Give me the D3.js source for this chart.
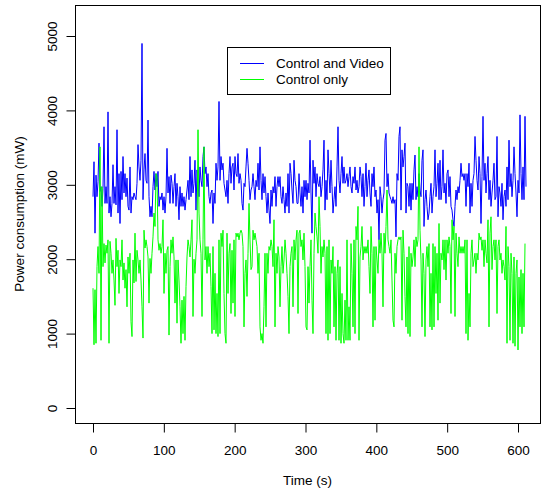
<!DOCTYPE html>
<html>
<head>
<meta charset="utf-8">
<script src="https://d3js.org/d3.v7.min.js"></script>
<style>
  body { margin: 0; background: #fff; }
  text { font-family: "Liberation Sans", Arial, sans-serif; }
</style>
</head>
<body>
<script>
// one reading every ~1.41 s
var step = 600 / 425;

var controlVideo = [
  2840,3310,2350,3130,2840,3040,3560,2910,2975,2710,2950,3780,2750,2975,2750,3980,2620,2840,2570,2750,
  3270,2750,2975,2730,3740,2620,3150,2480,3180,2800,3380,2890,3150,2840,3090,2710,2660,3240,2620,2840,
  2800,2890,2840,2800,3020,3540,3240,3060,3330,4900,2800,3200,3420,3060,3020,3870,2840,2570,2710,2570,
  2975,3180,2930,3150,2975,3180,2710,2840,2800,2890,2660,2840,2620,2840,3490,2890,3110,2750,3130,3020,
  2750,2975,3150,2710,3020,2840,2530,2975,2710,2890,2710,2840,2660,2800,2930,3060,2800,3380,2840,3200,
  2890,3020,
  3330,2660,3200,3020,2840,3240,3060,2975,3380,3510,3150,3240,2975,3150,2840,2750,2890,2930,2480,2890,
  2750,3290,3060,3240,4120,3060,3380,3200,3290,3020,2930,2840,3060,2750,3150,3380,3020,3240,3290,2930,
  3380,3150,3110,3420,3020,3150,3060,2750,2660,3020,2975,3240,3490,3290,3060,2800,2930,2975,3150,2975,
  2800,3060,2975,3290,2930,3510,3060,2800,3150,2890,3110,2840,2620,2890,2660,2480,2930,2710,2975,2890,
  3110,2710,2975,3110,2975,3110,2840,2750,2975,2800,2620,2890,2710,3150,2620,3290,3150,2930,2750,3330,
  3060,2975,2750,
  2750,3150,2890,2710,2975,2620,3060,2840,3060,2800,3020,2890,3600,2890,2350,3330,3020,3240,2840,3150,
  3020,2975,3110,2840,2975,3200,3600,2660,3060,2800,3470,3150,2890,3330,2975,2620,2800,2975,2710,3240,
  3780,3060,2890,3150,3380,3020,3240,3020,3060,3150,2975,3110,3240,2975,2890,3110,3020,3240,2930,3060,
  2890,2975,3240,3110,2840,3150,2710,2975,3290,2840,3060,3200,2890,2710,3150,2975,3240,2840,2930,2620,
  2800,2260,2975,2840,2620,2800,2890,3600,3690,2975,3150,2890,2840,2800,2750,2840,2750,2800,2300,3150,
  3060,3650,
  3780,2660,3470,3240,3380,3560,2620,3020,2975,2710,3020,2660,3020,2800,3200,3400,2800,2975,2840,3150,
  2930,2840,3330,3470,2440,2800,2930,2710,2530,2620,2840,3020,2620,2840,2975,3470,2840,3020,3290,2800,
  3330,2800,2975,3470,2890,3020,2750,3150,3200,2840,3110,2710,2660,2530,2440,2710,2930,2800,2975,2890,
  3060,3290,3110,3150,3060,3150,2710,3150,2975,3290,2620,3020,2710,3060,3150,3650,3330,3060,2930,3380,
  3150,2480,3110,3920,3060,3290,2890,3150,3380,2800,3060,2710,2890,3060,3290,2800,2840,3650,2570,2975,
  2890,2710,3020,2530,2840,2930,2710,3240,2800,3600,2975,3150,2840,3060,3510,3150,2890,2570,3060,2890,
  3940,3150,2800,3240,2800,3920,2975
];

var controlOnly = [
  1610,850,1590,870,1900,2170,1810,3510,910,2975,1900,2210,1950,2190,2080,2260,870,2240,2080,1810,
  1990,1720,1380,2280,1900,2120,1540,1990,1900,2260,1720,1950,1610,1860,1360,2030,1810,2080,1160,960,
  1990,1680,2350,1700,2120,1990,1810,1990,1720,1360,940,2390,2150,2260,2170,2030,1410,2010,1810,2080,
  2300,2620,2440,3150,3110,2260,2120,2210,2080,2170,2530,1540,2080,1810,2120,2170,980,1900,2260,2080,
  2300,2030,1410,1990,1140,1990,1720,1360,870,1450,1000,1500,910,1630,2030,2260,2170,2030,2260,2530,
  1230,2000,
  1810,2080,2260,3740,2620,2260,2080,1230,2260,3510,1990,2170,1810,2170,1900,2080,1630,1000,2170,1050,
  1810,1000,1540,960,2260,1000,2350,2170,2390,1540,1000,870,2350,1540,2080,2210,1270,2120,1410,2260,
  1230,2350,2300,2350,2260,2350,2390,2350,2170,1090,1810,1990,1500,2080,2750,2260,1860,1900,2390,2260,
  2350,2260,2170,1810,2080,1090,910,1000,870,1360,2080,1090,2080,1810,2170,2120,2260,2170,1900,2530,
  1090,2080,1810,2170,2030,1360,1900,2170,1810,1990,2260,2080,1810,1500,1000,1900,2080,2170,1360,2260,
  1990,2260,2390,
  1270,2350,2390,2170,2260,1990,2350,1900,1090,1050,1900,1410,1900,2260,1450,1000,2080,2620,2440,2300,
  2080,2840,2440,1810,2170,2030,2260,2080,1000,2170,910,2260,1000,1990,1810,2170,1090,1900,910,1810,
  1990,910,1900,870,1540,1000,870,1450,910,2260,910,1360,910,2210,1810,1090,2260,1000,2440,2260,
  2710,910,2030,2170,2440,1990,2170,2080,2170,2080,2260,1900,1540,2440,2080,1090,2170,1180,2170,1990,
  1810,2260,2080,2350,2080,1360,2350,2080,2440,2930,2260,2170,2080,2260,1720,1180,1090,2080,1810,2170,
  2260,2300,
  2260,2300,1180,2390,2080,1500,1090,2030,1000,2170,960,2080,1900,2030,2260,1900,2300,2170,2260,3510,
  2390,1990,1090,2080,1810,960,1990,2170,1900,2210,1090,1810,1050,2210,1090,2170,1540,2080,1180,2480,
  1410,2080,1990,2260,1860,2260,1720,2260,2080,2300,2170,1270,2530,2260,2440,1230,2350,2080,1900,2300,
  2080,2170,2080,2170,2080,2260,1000,2260,910,1540,1090,2080,2260,1900,1990,2080,1810,2080,1990,2350,
  2260,2300,2120,2260,1900,2260,2080,1950,2530,1090,2350,2570,1860,2170,2260,1990,2260,1270,2170,2260,
  1990,2080,1810,1990,1900,1720,2440,870,2170,1900,910,2080,1810,870,2030,830,1810,1990,780,1760,
  1090,1860,1000,1810,1090,2210
];

var xTicks = [0, 100, 200, 300, 400, 500, 600];
var yTicks = [0, 1000, 2000, 3000, 4000, 5000];
var seriesNames = ["Control and Video", "Control only"];
var seriesColors = ["#0000ff", "#00ff00"];

var width = 545, height = 491;
var box = {left: 75, right: 540, top: 5, bottom: 423};
var fs = 13.5;

var svg = d3.select("body").append("svg")
    .attr("width", width)
    .attr("height", height);

svg.append("rect").attr("width", width).attr("height", height).attr("fill", "#fff");

var x = d3.scaleLinear().domain([0, 600]).range([93, 518]);
var y = d3.scaleLinear().domain([0, 5000]).range([408, 36]);

var line = d3.line()
    .x(function(d, i) { return x(i * step); })
    .y(function(d) { return y(d); });

svg.append("path")
    .datum(controlVideo)
    .attr("fill", "none")
    .attr("stroke", seriesColors[0])
    .attr("stroke-width", 1)
    .attr("d", line);

svg.append("path")
    .datum(controlOnly)
    .attr("fill", "none")
    .attr("stroke", seriesColors[1])
    .attr("stroke-width", 1)
    .attr("d", line);

// frame
svg.append("rect")
    .attr("x", box.left + 0.5).attr("y", box.top + 0.5)
    .attr("width", box.right - box.left).attr("height", box.bottom - box.top)
    .attr("fill", "none").attr("stroke", "#000").attr("stroke-width", 1);

var xAxis = svg.append("g")
    .attr("transform", "translate(0," + (box.bottom + 0.5) + ")")
    .call(d3.axisBottom(x).tickValues(xTicks).tickSize(9).tickSizeOuter(0));
xAxis.select(".domain").remove();
xAxis.selectAll("text")
    .attr("dy", null).attr("y", 31)
    .attr("font-size", fs).attr("fill", "#000")
    .style("font-family", "Liberation Sans, Arial, sans-serif");

var yAxis = svg.append("g")
    .attr("transform", "translate(" + (box.left + 0.5) + ",0)")
    .call(d3.axisLeft(y).tickValues(yTicks).tickFormat(d3.format("d")).tickSize(9).tickSizeOuter(0));
yAxis.select(".domain").remove();
yAxis.selectAll("text")
    .attr("dy", null).attr("x", 0).attr("y", -18.5)
    .attr("transform", "rotate(-90)")
    .attr("text-anchor", "middle")
    .attr("font-size", fs).attr("fill", "#000")
    .style("font-family", "Liberation Sans, Arial, sans-serif");

svg.append("text")
    .attr("x", (box.left + box.right) / 2)
    .attr("y", 485)
    .attr("text-anchor", "middle")
    .attr("font-size", fs)
    .text("Time (s)");

svg.append("text")
    .attr("transform", "translate(24," + ((box.top + box.bottom) / 2) + ") rotate(-90)")
    .attr("text-anchor", "middle")
    .attr("font-size", fs)
    .text("Power consumption (mW)");

// legend
var legend = svg.append("g");
legend.append("rect")
    .attr("x", 227.5).attr("y", 47.5)
    .attr("width", 163).attr("height", 47)
    .attr("fill", "#fff").attr("stroke", "#000");

seriesNames.forEach(function(name, i) {
  var ly = 63 + i * 16;
  legend.append("line")
      .attr("x1", 240).attr("x2", 264)
      .attr("y1", ly + 0.5).attr("y2", ly + 0.5)
      .attr("stroke", seriesColors[i]);
  legend.append("text")
      .attr("x", 276).attr("y", ly + 5)
      .attr("font-size", fs)
      .text(name);
});
</script>
</body>
</html>
